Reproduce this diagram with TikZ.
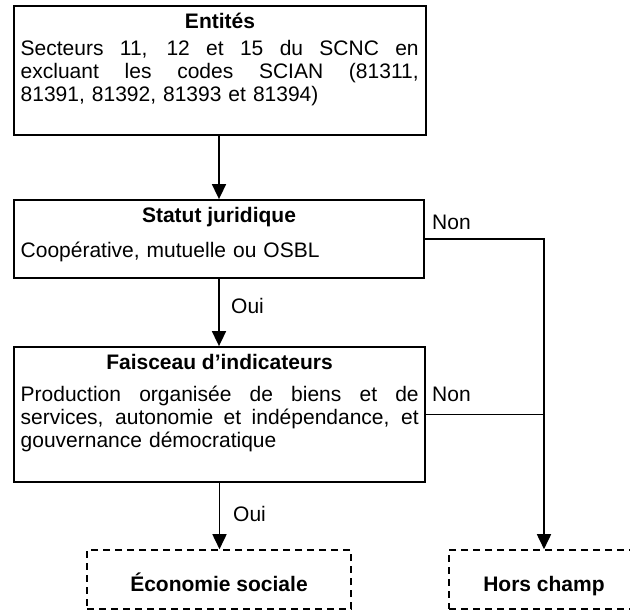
\documentclass[tikz,border=0pt]{standalone}
\usepackage{fontspec}
\setmainfont{Liberation Sans}
\usetikzlibrary{arrows.meta}
\newcommand{\jline}[1]{\leavevmode\hbox to 398pt{\spaceskip=0.278em plus 1fil\relax #1}}
\begin{document}
\begin{tikzpicture}[x=1pt,y=-1pt,
 box/.style={draw, line width=1.8pt, rectangle, inner sep=0pt},
 dbox/.style={draw, line width=1.6pt, dash pattern=on 7pt off 5pt, inner sep=0pt, text height=23pt, text depth=0pt, font=\fontsize{21}{24}\selectfont\bfseries},
 ttl/.style={anchor=base, inner sep=0pt, font=\fontsize{21}{24}\selectfont\bfseries},
 body/.style={anchor=base west, inner sep=0pt, text width=398pt, align=left, font=\fontsize{21}{23.4}\selectfont},
 lbl/.style={anchor=base west, inner sep=0pt, font=\fontsize{21}{24}\selectfont},
 conn/.style={line width=1.7pt},
 arr/.style={conn, -{Triangle[length=15pt,width=14pt]}}]
\useasboundingbox (0,0) rectangle (630,611);
\clip (0,0) rectangle (630,611);
% boxes
\node[box, minimum width=412pt, minimum height=129pt] (b1) at (220,70.5) {};
\node[box, minimum width=410pt, minimum height=78pt] (b2) at (219,239) {};
\node[box, minimum width=411pt, minimum height=135pt] (b3) at (219.5,414.5) {};
\node[dbox, minimum width=264pt, minimum height=59pt] (b4) at (219,579.5) {Économie sociale};
\node[dbox, minimum width=190pt, minimum height=59pt] (b5) at (544,579.5) {Hors champ};
% titles
\node[ttl] (t1) at (220,28.5) {Entités};
\node[ttl] (t2) at (219,222) {Statut juridique};
\node[ttl] (t3) at (219.5,369.5) {Faisceau d’indicateurs};
% bodies
\node[body] (x1) at (20.5,55) {\jline{Secteurs 11, 12 et 15 du SCNC en}\\\jline{excluant les codes SCIAN (81311,}\\81391, 81392, 81393 et 81394)};
\node[body] (x2) at (20.5,257) {Coopérative, mutuelle ou OSBL};
\node[body] (x3) at (20.5,401) {\jline{Production organisée de biens et de}\\\jline{services, autonomie et indépendance, et}\\gouvernance démocratique};
% connectors
\draw[arr] (b2.north |- b1.south) -- (b2.north);
\draw[arr] (b2.south) -- (b2.south |- b3.north);
\draw[arr] (b3.south) -- (b3.south |- b4.north);
\draw[arr] (b2.east) -| (b5.north);
\draw[conn] (b3.east) -- (b3.east -| b5.north);
% labels
\node[lbl] (o1) at (231,313) {Oui};
\node[lbl] (o2) at (233,521) {Oui};
\node[lbl] (n1) at (432,229.5) {Non};
\node[lbl] (n2) at (432,401.5) {Non};
\end{tikzpicture}
\end{document}
